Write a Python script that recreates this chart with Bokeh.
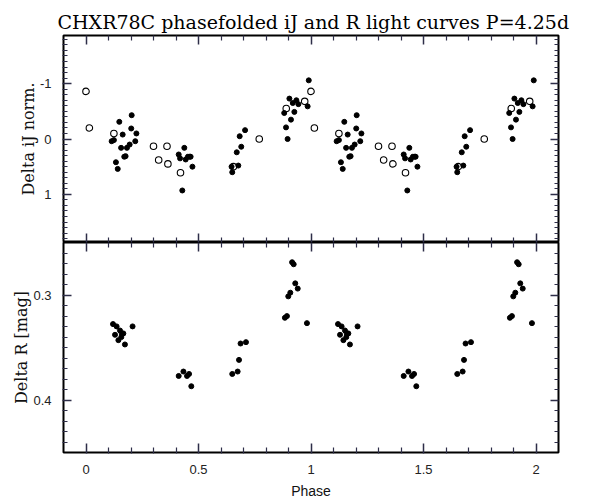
import numpy as np
from bokeh.plotting import figure
from bokeh.layouts import column
from bokeh.models import Range1d, LinearAxis, FixedTicker, CustomJSTickFormatter
from bokeh.embed import file_html
from bokeh.resources import INLINE

# ---- data (phase in [0,1); plotted twice, at phase and phase+1) ----
ij_phase = [0.114, 0.124, 0.133, 0.141, 0.148, 0.156, 0.163, 0.170, 0.176, 0.182,
            0.194, 0.201, 0.203, 0.219, 0.224,
            0.412, 0.418, 0.428, 0.437, 0.443, 0.453, 0.461, 0.465, 0.473,
            0.647, 0.650, 0.670, 0.677, 0.683, 0.690, 0.707,
            0.881, 0.889, 0.896, 0.904, 0.911, 0.919, 0.926, 0.935, 0.944, 0.985, 0.990]
ij_delta = [0.04, 0.02, 0.42, 0.54, -0.31, 0.16, -0.08, 0.32, 0.31, 0.16,
            0.10, -0.19, -0.43, 0.04, -0.10,
            0.28, 0.35, 0.93, 0.16, 0.37, 0.32, 0.32, 0.32, 0.50,
            0.50, 0.60, 0.24, 0.48, -0.05, 0.14, -0.16,
            -0.47, -0.21, 0.00, -0.73, -0.35, -0.65, -0.49, -0.70, -0.63, -0.59, -1.06]

ij_open_phase = [0.000, 0.015, 0.124, 0.300, 0.323, 0.360, 0.364, 0.420, 0.655, 0.770, 0.890, 0.972]
ij_open_delta = [-0.86, -0.20, -0.10, 0.13, 0.38, 0.13, 0.45, 0.61, 0.50, 0.00, -0.55, -0.68]

r_phase = [0.120, 0.129, 0.136, 0.144, 0.151, 0.157, 0.159, 0.166, 0.173, 0.207,
           0.412, 0.433, 0.449, 0.458, 0.468,
           0.650, 0.674, 0.680, 0.687, 0.711,
           0.884, 0.893, 0.899, 0.908, 0.916, 0.923, 0.930, 0.941, 0.982]
r_delta = [0.3277, 0.3379, 0.3299, 0.3430, 0.3338, 0.3401, 0.3366, 0.3366, 0.3471, 0.3299,
           0.3771, 0.3729, 0.3771, 0.3752, 0.3869,
           0.3752, 0.3729, 0.3618, 0.3462, 0.3449,
           0.3217, 0.3201, 0.3013, 0.2978, 0.2688, 0.2707, 0.2889, 0.2939, 0.3268]

x_tick_values = [0.0, 0.5, 1.0, 1.5, 2.0]
x_tick_labels = ["0", "0.5", "1", "1.5", "2"]
ij_tick_values = [-1.0, 0.0, 1.0]
ij_tick_labels = ["-1", "0", "1"]
r_tick_values = [0.3, 0.4]
r_tick_labels = ["0.3", "0.4"]

title_text = "CHXR78C phasefolded iJ and R light curves P=4.25d"

X_LIM = (-0.1, 2.1)
IJ_LIM = (1.87, -1.87)
R_LIM = (0.45, 0.25)
FRAME_W = 495
H_TOP = 207
H_BOT = 210
TICK_COL = "#2e2e48"


def fold(ph, vals):
    ph = [float(v) for v in ph]
    return ph + [v + 1.0 for v in ph], list(vals) + list(vals)


def fmt(vals, labs):
    return CustomJSTickFormatter(args=dict(vals=vals, labs=labs), code="""
        for (let i = 0; i < vals.length; i++) {
            if (Math.abs(vals[i] - tick) < 1e-9) { return labs[i]; }
        }
        return '';""")


def minor_between(lo, hi, step, majors):
    n = int(round((hi - lo) / step))
    vals = [round(lo + i * step, 4) for i in range(n + 1)]
    return [float(v) for v in vals if all(abs(v - m) > step / 4 for m in majors)]


X_MINOR = minor_between(0.0, 2.0, 0.1, x_tick_values)
IJ_MINOR = minor_between(-1.8, 1.8, 0.1, ij_tick_values)
R_MINOR = minor_between(0.26, 0.44, 0.01, r_tick_values)


def make_axis(ticks, minor, major_len, minor_len, labels=None, vals=None, fixed=None):
    ax = LinearAxis(ticker=FixedTicker(ticks=ticks, minor_ticks=minor))
    if fixed is not None:
        ax.fixed_location = fixed
    ax.axis_line_color = None
    ax.major_tick_in = major_len
    ax.major_tick_out = 1
    ax.minor_tick_in = minor_len
    ax.minor_tick_out = 1
    ax.major_tick_line_color = TICK_COL
    ax.minor_tick_line_color = TICK_COL
    ax.major_tick_line_width = 1.5
    ax.minor_tick_line_width = 1.2
    if labels is not None:
        ax.formatter = fmt(vals, labels)
        ax.major_label_text_font = "Liberation Sans"
        ax.major_label_text_font_size = "13px"
        ax.major_label_text_color = "#222222"
        ax.major_label_standoff = 11
    else:
        ax.formatter = CustomJSTickFormatter(code="return '';")
        ax.major_label_standoff = 0
    ax.axis_label_text_color = "#111111"
    ax.axis_label_text_font_style = "normal"
    return ax


def base(frame_h, yr, top, bottom):
    p = figure(frame_width=FRAME_W, frame_height=frame_h,
               x_range=Range1d(*X_LIM), y_range=Range1d(*yr),
               x_axis_location=None, y_axis_location=None,
               output_backend="svg", toolbar_location=None,
               min_border_left=63, min_border_right=20,
               min_border_top=top, min_border_bottom=bottom)
    p.outline_line_color = "black"
    p.outline_line_width = 2
    p.xgrid.visible = False
    p.ygrid.visible = False
    p.background_fill_color = "white"
    p.border_fill_color = "white"
    return p


# ---- top panel: Delta iJ ----
p1 = base(H_TOP, IJ_LIM, 35, 0)
p1.title.text = title_text
p1.title.text_font = "DejaVu Serif"
p1.title.text_font_size = "19px"
p1.title.text_font_style = "normal"
p1.title.text_color = "black"
p1.title.align = "left"
p1.title.offset = -6
p1.title.standoff = 6

p1.add_layout(make_axis(x_tick_values, X_MINOR, 9, 5, fixed=IJ_LIM[1]), "above")
p1.add_layout(make_axis(x_tick_values, X_MINOR, 9, 5, fixed=IJ_LIM[0]), "below")
p1.add_layout(make_axis(ij_tick_values, IJ_MINOR, 8, 4, fixed=X_LIM[1]), "right")
ly1 = make_axis(ij_tick_values, IJ_MINOR, 8, 4, ij_tick_labels, ij_tick_values)
ly1.axis_label = "Delta iJ norm."
ly1.axis_label_text_font = "DejaVu Serif"
ly1.axis_label_text_font_size = "16px"
ly1.axis_label_standoff = -1
p1.add_layout(ly1, "left")

fx, fy = fold(ij_phase, ij_delta)
p1.scatter(fx, fy, size=5, color="black")
ox, oy = fold(ij_open_phase, ij_open_delta)
p1.scatter(ox, oy, size=6.5, fill_color=None, line_color="black", line_width=1.1)

# ---- bottom panel: Delta R ----
p2 = base(H_BOT, R_LIM, 0, 50)
p2.add_layout(make_axis(x_tick_values, X_MINOR, 9, 5, fixed=R_LIM[1]), "above")
p2.add_layout(make_axis(r_tick_values, R_MINOR, 8, 4, fixed=X_LIM[1]), "right")
lx2 = make_axis(x_tick_values, X_MINOR, 9, 5, x_tick_labels, x_tick_values)
lx2.axis_label = "Phase"
lx2.axis_label_text_font = "Liberation Sans"
lx2.axis_label_text_font_size = "14px"
lx2.axis_label_standoff = 6
p2.add_layout(lx2, "below")
ly2 = make_axis(r_tick_values, R_MINOR, 8, 4, r_tick_labels, r_tick_values)
ly2.axis_label = "Delta R [mag]"
ly2.axis_label_text_font = "DejaVu Serif"
ly2.axis_label_text_font_size = "16px"
ly2.axis_label_standoff = -1
p2.add_layout(ly2, "left")

rx, ry = fold(r_phase, r_delta)
p2.scatter(rx, ry, size=5, color="black")

layout = column(p1, p2, spacing=0)
open("out.html", "w").write(file_html(layout, INLINE))
